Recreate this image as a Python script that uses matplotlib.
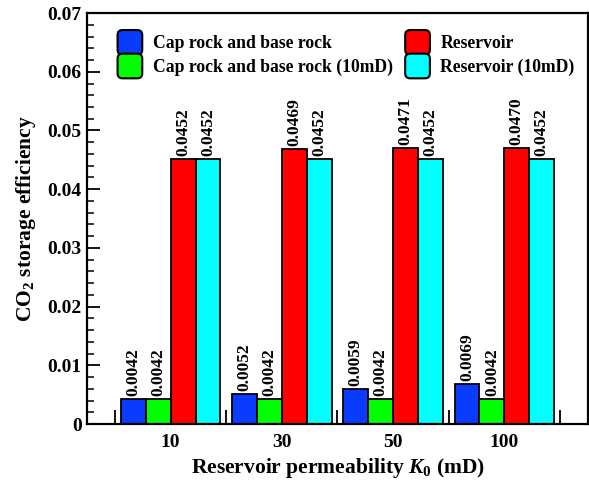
import matplotlib
matplotlib.use("Agg")
import matplotlib.pyplot as plt
import numpy as np
from matplotlib.patches import FancyBboxPatch
from matplotlib.legend_handler import HandlerPatch
from matplotlib.ticker import MultipleLocator

plt.rcParams['font.family'] = ['Liberation Serif', 'DejaVu Serif']
plt.rcParams['font.weight'] = 'bold'
plt.rcParams['mathtext.fontset'] = 'custom'
plt.rcParams['mathtext.rm'] = 'Liberation Serif:bold'
plt.rcParams['mathtext.it'] = 'Liberation Serif:italic:bold'
plt.rcParams['mathtext.bf'] = 'Liberation Serif:bold'

# data
permeability = ['10', '30', '50', '100']
cap_base = [0.0042, 0.0052, 0.0059, 0.0069]
cap_base_10md = [0.0042, 0.0042, 0.0042, 0.0042]
reservoir = [0.0452, 0.0469, 0.0471, 0.0470]
reservoir_10md = [0.0452, 0.0452, 0.0452, 0.0452]

series = [
    ('Cap rock and base rock', cap_base, '#0A3CFF'),
    ('Cap rock and base rock (10mD)', cap_base_10md, '#00FF00'),
    ('Reservoir', reservoir, '#FF0000'),
    ('Reservoir (10mD)', reservoir_10md, '#00FFFF'),
]


class RoundHandler(HandlerPatch):
    # rounded square legend marker
    def create_artists(self, legend, orig_handle, xdescent, ydescent,
                       width, height, fontsize, trans):
        s = width
        p = FancyBboxPatch((-xdescent, -ydescent + (height - s) / 2),
                           s, s, boxstyle="round,pad=0,rounding_size=%f" % (s * 0.2),
                           facecolor=orig_handle.get_facecolor(),
                           edgecolor='black', linewidth=1.5, transform=trans)
        return [p]


fig = plt.figure(figsize=(5.89, 4.83), dpi=100)
ax = fig.add_axes([0.148, 0.122, 0.85, 0.851])

x = np.arange(len(permeability))
w = 0.224
offsets = [-1.5 * w, -0.5 * w, 0.5 * w, 1.5 * w]

handles = []
for (label, vals, color), off in zip(series, offsets):
    bars = ax.bar(x + off, vals, w, color=color, edgecolor='black',
                  linewidth=1.3, label=label)
    handles.append(bars[0])
    for xi, v in zip(x + off, vals):
        ax.text(xi, v + 0.0005, '%.4f' % v, rotation=90, ha='center',
                va='bottom', fontsize=12.5, fontweight='bold')

ax.set_xlim(-0.75, 3.75)
ax.set_ylim(0, 0.07)

ax.set_xticks(np.arange(-0.5, 4, 1.0))
ax.set_xticklabels([])
ax.set_xticks(x, minor=True)
ax.set_xticklabels(permeability, minor=True)
ax.tick_params(axis='x', which='major', direction='in', length=10, width=1.3)
ax.tick_params(axis='x', which='minor', length=0, labelsize=14, pad=7)

ax.yaxis.set_minor_locator(MultipleLocator(0.002))
ax.set_yticks(np.arange(0, 0.071, 0.01))
ax.set_yticklabels(['0'] + ['%.2f' % v for v in np.arange(0.01, 0.071, 0.01)])
ax.tick_params(axis='y', which='major', direction='in', length=9, width=1.3,
               labelsize=14, pad=4)
ax.tick_params(axis='y', which='minor', direction='in', length=5, width=1.1)

for sp in ax.spines.values():
    sp.set_linewidth(1.6)

ax.set_ylabel('CO$_2$ storage efficiency', fontsize=15.5, fontweight='bold', labelpad=7)
ax.set_xlabel('Reservoir permeability $K_0$ (mD)', fontsize=15.5,
              fontweight='bold', labelpad=4)

ax.legend(handles=handles, labels=[s[0] for s in series], ncol=2,
          loc='upper left', bbox_to_anchor=(0.029, 0.985), frameon=False,
          fontsize=12.7, handler_map={h: RoundHandler() for h in handles},
          handlelength=1.4, handleheight=0.9, handletextpad=0.6,
          columnspacing=0.7, labelspacing=0.35)

fig.savefig('out.png', dpi=100)
